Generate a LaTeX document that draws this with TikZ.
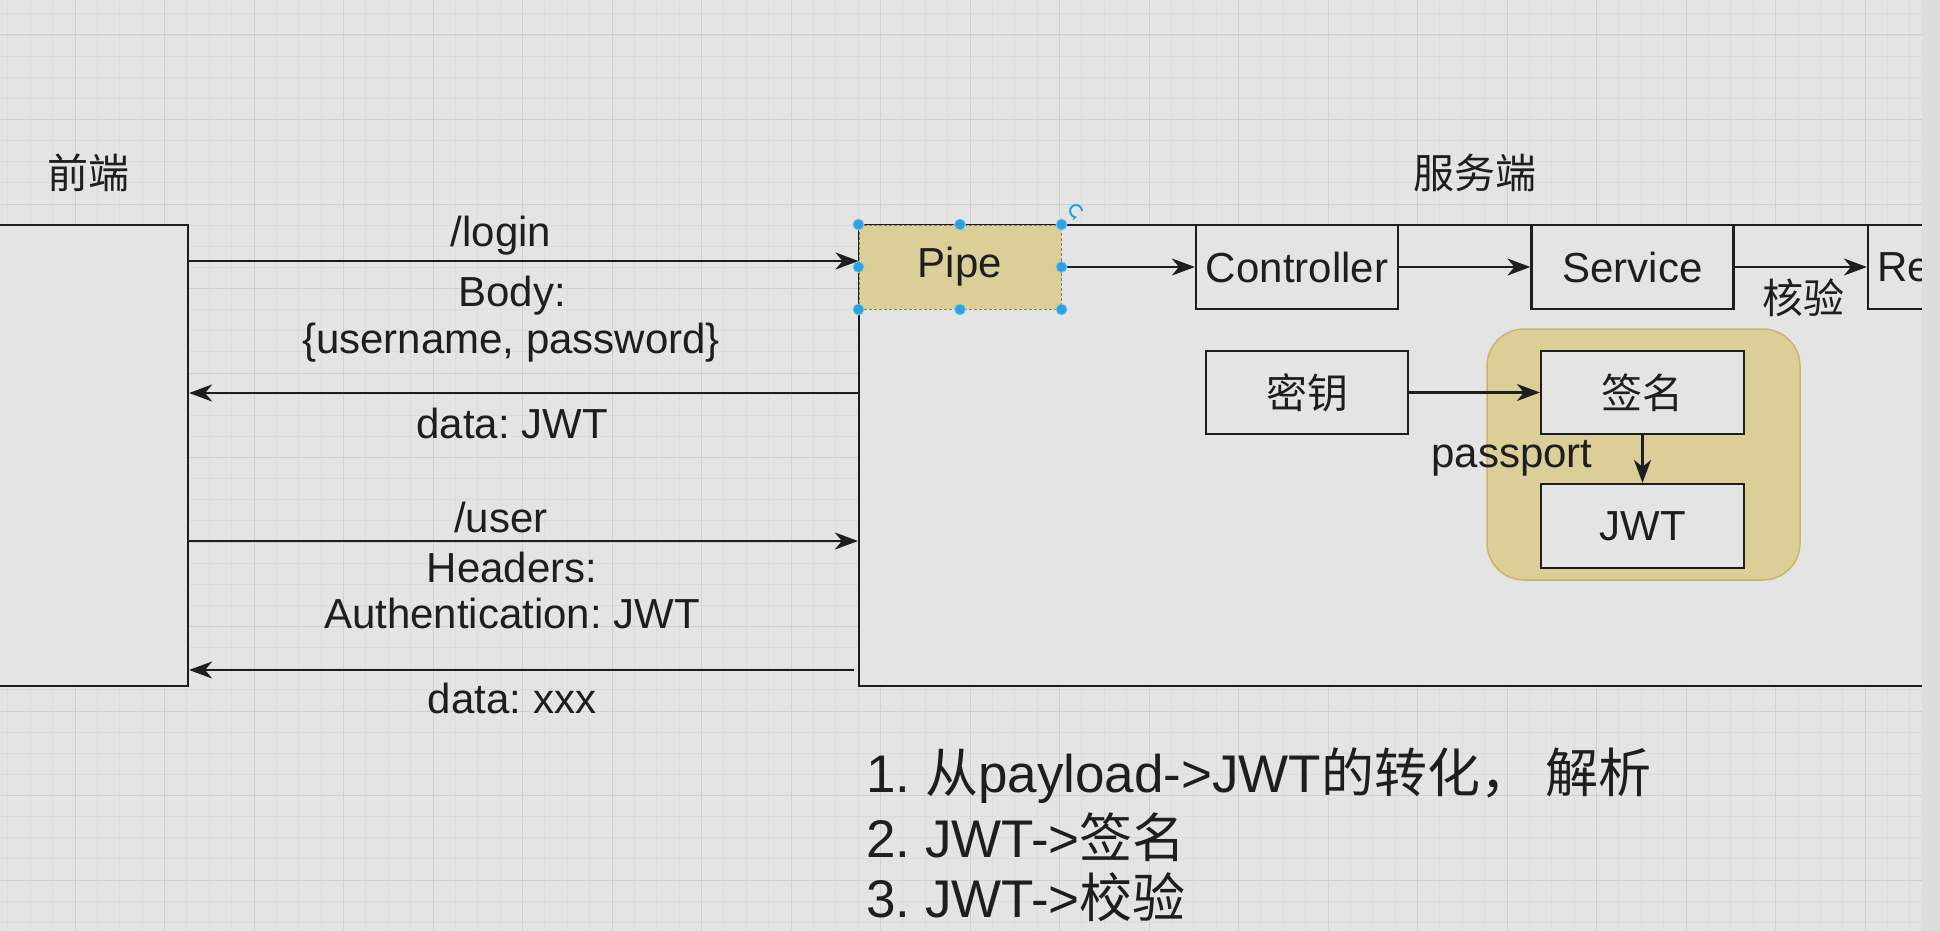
\documentclass[tikz,border=0pt]{standalone}
\usepackage{fontspec}
\setmainfont{Liberation Sans}
\newfontfamily\cjk{Noto Sans CJK SC}
\usetikzlibrary{arrows.meta}
\definecolor{bg}{RGB}{228,228,228}
\definecolor{gridminor}{RGB}{220,220,220}
\definecolor{gridmajor}{RGB}{208,208,208}
\definecolor{ink}{RGB}{30,30,30}
\definecolor{tan}{RGB}{219,206,150}
\definecolor{tanedge}{RGB}{200,182,110}
\definecolor{handle}{RGB}{42,163,222}
\definecolor{strip}{RGB}{221,221,221}
\frenchspacing
\begin{document}
\begin{tikzpicture}[x=1pt,y=-1pt,
  txt/.style={font=\fontsize{42}{50}\selectfont, text=ink, inner sep=0pt},
  cjktxt/.style={font=\cjk\fontsize{41}{50}\selectfont, text=ink, inner sep=0pt},
  box/.style={draw=ink, line width=2.2pt, fill=bg, minimum width=202pt, minimum height=84pt, inner sep=0pt, font=\fontsize{42}{50}\selectfont, text=ink},
  cjkbox/.style={box, font=\cjk\fontsize{41}{50}\selectfont},
  conn/.style={draw=ink, line width=2.4pt, -{Stealth[length=23pt,width=17pt,inset=7pt]}},
  hdl/.style={circle, fill=handle, draw=handle!60!white, line width=0.8pt, minimum size=11pt, inner sep=0pt},
  big/.style={font=\fontsize{53}{62}\selectfont, text=ink, inner sep=0pt, anchor=west}
]
\useasboundingbox (0,0) rectangle (1940,931);
\clip (0,0) rectangle (1940,931);
% background and grid
\fill[bg] (0,0) rectangle (1940,931);
\foreach \i in {0,...,86} \draw[gridminor, line width=0.8pt] ({7.875+22.375*\i},0) -- ++(0,931);
\foreach \j in {0,...,43} \draw[gridminor, line width=0.8pt] (0,{13.875+21.125*\j}) -- ++(1940,0);
\foreach \i in {0,...,21} \draw[gridmajor, line width=1pt] ({75+89.5*\i},0) -- ++(0,931);
\foreach \j in {0,...,10} \draw[gridmajor, line width=1pt] (0,{35+84.5*\j}) -- ++(1940,0);

% titles
\node[cjktxt] (tfe) at (88,173) {前端};
\node[cjktxt] (tbe) at (1475,173) {服务端};

% containers
\node[box, minimum width=228pt, minimum height=461pt] (fe) at (74,455.5) {};
\node[box, minimum width=1100pt, minimum height=461pt] (be) at (1409,455.5) {};

% server internals
\node[box, fill=tan, draw=tanedge!70!black, line width=1pt, dash pattern=on 3pt off 2pt] (pipe) at (960,267) {Pipe};
\node[box] (ctrl) at (1297,267) {Controller};
\node[box] (svc) at (1632.5,267) {Service};
\node[box] (re) at (1969,267) {};
\node[txt, anchor=west] (retxt) at (1877,267) {Re};

\node[draw=tanedge, fill=tan, line width=1.5pt, rounded corners=37pt, minimum width=313pt, minimum height=251pt, inner sep=0pt] (grp) at (1643.5,454.5) {};
\node[cjkbox, minimum height=83pt] (key) at (1307,392.5) {密钥};
\node[cjkbox, minimum width=203pt, minimum height=83pt] (sign) at (1642.5,392.5) {签名};
\node[box, minimum width=203pt] (jwt) at (1642.5,526) {JWT};
\node[txt] (pp) at (1512,458) {passport};

\draw[conn] (pipe.east) -- (ctrl.west);
\draw[conn] (ctrl.east) -- (svc.west);
\draw[conn] (svc.east) -- (re.west);
\node[cjktxt] (hy) at (1803,298) {核验};
\draw[conn] (key.east) -- (sign.west);
\draw[conn] (sign.south) -- (jwt.north);

% selection handles
\foreach \p/\n in {north west/a, north/b, north east/c, west/d, east/e, south west/f, south/g, south east/h}
  \node[hdl] (h\n) at (pipe.\p) {};
\coordinate (rot) at (1076,211);
\draw[handle, line width=2pt, -{Stealth[length=5pt,width=5pt]}] ([xshift=6pt]rot) arc[start angle=0, end angle=280, radius=6pt];

% request / response arrows
\coordinate (l1) at (0,261);
\coordinate (l2) at (0,393);
\coordinate (l3) at (0,541);
\coordinate (l4) at (0,670);
\draw[conn] (fe.east |- l1) -- (pipe.west |- l1);
\draw[conn] (be.west |- l2) -- (fe.east |- l2);
\draw[conn] (fe.east |- l3) -- (be.west |- l3);
\draw[conn] ([xshift=-4pt]be.west |- l4) -- (fe.east |- l4);

\node[txt] (t1) at (501,236) {/login};
\node[txt] (t2) at (512,296) {Body:};
\node[txt] (t3) at (511,343) {\{username, password\}};
\node[txt] (t4) at (512,423) {data: JWT};
\node[txt] (t5) at (501,517) {/user};
\node[txt] (t6) at (512,567) {Headers:};
\node[txt] (t7) at (512,613) {Authentication: JWT};
\node[txt] (t8) at (512,698) {data: xxx};

% notes
\node[big] (n1) at (866,776) {1. {\cjk 从}payload->JWT{\cjk 的转化，}\hspace{12pt}{\cjk 解析}};
\node[big] (n2) at (866,837) {2. JWT->{\cjk 签名}};
\node[big] (n3) at (866,897) {3. JWT->{\cjk 校验}};

% right strip
\fill[strip] (1922,0) rectangle (1940,931);
\end{tikzpicture}
\end{document}
